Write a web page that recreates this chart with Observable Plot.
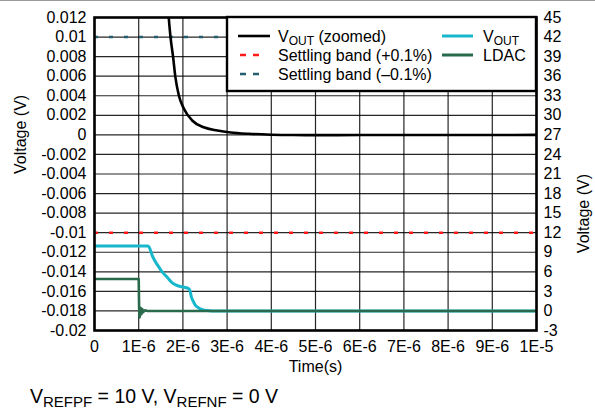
<!DOCTYPE html>
<html>
<head>
<meta charset="utf-8">
<script src="https://cdn.jsdelivr.net/npm/d3@7"></script>
<script src="https://cdn.jsdelivr.net/npm/@observablehq/plot@0.6"></script>
<style>
  html, body { margin: 0; padding: 0; background: #fff; }
  #wrap { position: relative; width: 595px; height: 411px; overflow: hidden; background: #fff;
          font-family: "Liberation Sans", Arial, Helvetica, sans-serif; }
  #topline { position: absolute; left: 0; top: 0; width: 595px; height: 1px; background: #9a9a9a; }
  #chart { position: absolute; left: 0; top: 0; }
  #overlay { position: absolute; left: 0; top: 0; pointer-events: none; }
</style>
</head>
<body>
<div id="wrap">
  <div id="chart"></div>
  <svg id="overlay" width="595" height="411"></svg>
  <div id="topline"></div>
</div>
<script>
// ---------------- data ----------------
// time axis (seconds) and tick labels
const xTicks = [0, 1e-6, 2e-6, 3e-6, 4e-6, 5e-6, 6e-6, 7e-6, 8e-6, 9e-6, 1e-5];
const xTickLabels = ["0", "1E-6", "2E-6", "3E-6", "4E-6", "5E-6", "6E-6", "7E-6", "8E-6", "9E-6", "1E-5"];

// left axis (V, zoomed)
const yLeftTicks = [0.012, 0.01, 0.008, 0.006, 0.004, 0.002, 0, -0.002, -0.004, -0.006, -0.008, -0.01, -0.012, -0.014, -0.016, -0.018, -0.02];
const yLeftLabels = ["0.012", "0.01", "0.008", "0.006", "0.004", "0.002", "0", "-0.002", "-0.004", "-0.006", "-0.008", "-0.01", "-0.012", "-0.014", "-0.016", "-0.018", "-0.02"];
// right axis (V)
const yRightLabels = ["45", "42", "39", "36", "33", "30", "27", "24", "21", "18", "15", "12", "9", "6", "3", "0", "-3"];
const rightOffset = 27;      // right-axis value at left-axis 0
const rightPerLeft = 1500;   // right-axis volts per left-axis volt

// VOUT (zoomed), left axis: time in µs, value in V
const vzTime  = [1.60, 1.68, 1.72, 1.78, 1.83, 1.91, 2.02, 2.21, 2.47, 2.78, 3.08, 3.49, 4.0, 4.5, 5.0, 6.0, 7.0, 8.0, 9.0, 10.0];
const vzValue = [0.020, 0.0120, 0.0100, 0.0079, 0.0059, 0.0040, 0.0027, 0.00147, 0.00078, 0.00045, 0.00025, 0.00011, 0.00002, -0.00002, -0.00003, -0.00002, -0.00002, -0.00001, -0.00001, 0];

// VOUT, right axis: time in µs, value in V
const voutTime  = [0, 1.21, 1.25, 1.30, 1.34, 1.42, 1.53, 1.64, 1.76, 1.87, 1.98, 2.12, 2.16, 2.19, 2.24, 2.28, 2.35, 2.44, 2.55, 2.65, 10];
const voutValue = [9.95, 9.95, 9.6, 8.6, 8.0, 7.1, 6.0, 5.2, 4.3, 3.9, 3.7, 3.45, 3.1, 2.2, 1.4, 0.9, 0.5, 0.2, 0.05, 0, 0];

// LDAC, right axis: time in µs, value in V
const ldacTime  = [0, 1.0, 1.01, 1.02, 1.04, 1.06, 1.08, 1.10, 1.14, 1.20, 10];
const ldacValue = [4.9, 4.9, 0.2, -1.0, 0.5, -0.5, 0.3, -0.2, 0.1, 0, 0];

// settling bands (left axis, V)
const bandPlus = [-0.01];
const bandMinus = [0.01];

// text
const legendLabels = ["(zoomed)", "Settling band (+0.1%)", "Settling band (\u20130.1%)", "LDAC"];
const axisTitleY = "Voltage (V)";
const axisTitleX = "Time(s)";

// colours
const cBlack = "#000000", cRed = "#ff1a1a", cTeal = "#245e6e", cCyan = "#17b7cc", cGreen = "#2a6a4c";

// ---------------- build ----------------
const toLeft = v => (v - rightOffset) / rightPerLeft;
const vz = vzTime.map((t, i) => ({t: t * 1e-6, v: vzValue[i]}));
const vout = voutTime.map((t, i) => ({t: t * 1e-6, v: toLeft(voutValue[i])}));
const ldac = ldacTime.map((t, i) => ({t: t * 1e-6, v: toLeft(ldacValue[i])}));
const xLab = new Map(xTicks.map((d, i) => [d, xTickLabels[i]]));
const yLab = new Map(yLeftTicks.map((d, i) => [d, yLeftLabels[i]]));
const yRLab = new Map(yLeftTicks.map((d, i) => [d, yRightLabels[i]]));

const chart = Plot.plot({
  width: 595,
  height: 380,
  marginLeft: 94,
  marginRight: 59,
  marginTop: 17,
  marginBottom: 50,
  style: {fontFamily: "'Liberation Sans', Arial, Helvetica, sans-serif", fontSize: "16px", background: "transparent", color: "#000"},
  x: {domain: [0, 1e-5], axis: null},
  y: {domain: [-0.02, 0.012], axis: null},
  marks: [
    Plot.gridX(xTicks, {stroke: "#000", strokeOpacity: 0.85, strokeWidth: 1.2}),
    Plot.gridY(yLeftTicks, {stroke: "#000", strokeOpacity: 0.85, strokeWidth: 1.2}),
    Plot.ruleY(bandMinus, {stroke: cTeal, strokeWidth: 2.4, strokeDasharray: "4,11"}),
    Plot.ruleY(bandPlus, {stroke: cRed, strokeWidth: 2.4, strokeDasharray: "4,11"}),
    Plot.line(vout, {x: "t", y: "v", stroke: cCyan, strokeWidth: 3, curve: "monotone-x", clip: true}),
    Plot.line(ldac, {x: "t", y: "v", stroke: cGreen, strokeWidth: 2.6, clip: true}),
    Plot.line(vz, {x: "t", y: "v", stroke: cBlack, strokeWidth: 2.6, curve: "monotone-x", clip: true}),
    Plot.axisX(xTicks, {tickSize: 0, tickPadding: 10, tickFormat: d => xLab.get(d), label: null, fontSize: 16}),
    Plot.axisY(yLeftTicks, {anchor: "left", tickSize: 0, tickPadding: 8, tickFormat: d => yLab.get(d), label: null, fontSize: 16}),
    Plot.axisY(yLeftTicks, {anchor: "right", tickSize: 0, tickPadding: 7, tickFormat: d => yRLab.get(d), label: null, fontSize: 16}),
    Plot.text([axisTitleY], {frameAnchor: "left", dx: -74, rotate: -90, fontSize: 16}),
    Plot.text([axisTitleY], {frameAnchor: "right", dx: 47, rotate: -90, fontSize: 16}),
    Plot.text([axisTitleX], {frameAnchor: "bottom", dy: 41, fontSize: 16}),
    Plot.frame({stroke: "#000", strokeWidth: 2.6})
  ]
});
document.getElementById("chart").appendChild(chart);

// ---------------- legend + caption ----------------
const ns = "http://www.w3.org/2000/svg";
const ov = document.getElementById("overlay");
function el(tag, attrs, parent) {
  const e = document.createElementNS(ns, tag);
  for (const k in attrs) e.setAttribute(k, attrs[k]);
  (parent || ov).appendChild(e);
  return e;
}
const ff = "'Liberation Sans', Arial, Helvetica, sans-serif";
el("rect", {x: 227, y: 17, width: 309, height: 74, fill: "#fff", stroke: "#000", "stroke-width": 2.4});
// samples
el("line", {x1: 238, x2: 270, y1: 36, y2: 36, stroke: cBlack, "stroke-width": 2.6});
el("line", {x1: 240, x2: 260, y1: 55, y2: 55, stroke: cRed, "stroke-width": 2.6, "stroke-dasharray": "6,7"});
el("line", {x1: 240, x2: 260, y1: 74, y2: 74, stroke: cTeal, "stroke-width": 2.6, "stroke-dasharray": "6,7"});
el("line", {x1: 442, x2: 473, y1: 36, y2: 36, stroke: cCyan, "stroke-width": 3});
el("line", {x1: 442, x2: 473, y1: 55, y2: 55, stroke: cGreen, "stroke-width": 3});
function vSub(x, y, sub, rest, big, small, shift) {
  const t = el("text", {x, y, "font-family": ff, "font-size": big, fill: "#000"});
  t.appendChild(document.createTextNode("V"));
  const s = el("tspan", {"font-size": small, dy: shift}, t);
  s.textContent = sub;
  if (rest) {
    const r = el("tspan", {"font-size": big, dy: -shift}, t);
    r.textContent = rest;
  }
  return t;
}
vSub(278, 42, "OUT", " " + legendLabels[0], 16, 12, 3);
el("text", {x: 278, y: 61, "font-family": ff, "font-size": 16}).textContent = legendLabels[1];
el("text", {x: 278, y: 80, "font-family": ff, "font-size": 16}).textContent = legendLabels[2];
vSub(483, 42, "OUT", null, 16, 12, 3);
el("text", {x: 483, y: 61, "font-family": ff, "font-size": 16}).textContent = legendLabels[3];

// caption
const cap = el("text", {x: 30, y: 403, "font-family": ff, "font-size": 19.5, fill: "#000"});
cap.appendChild(document.createTextNode("V"));
const parts = [["REFPF", true], [" = 10 V, V", false], ["REFNF", true], [" = 0 V", false]];
for (const [txt, sub] of parts) {
  const s = el("tspan", {"font-size": sub ? 15 : 19.5, dy: sub ? 4 : -4}, cap);
  s.textContent = txt;
}
</script>
</body>
</html>
